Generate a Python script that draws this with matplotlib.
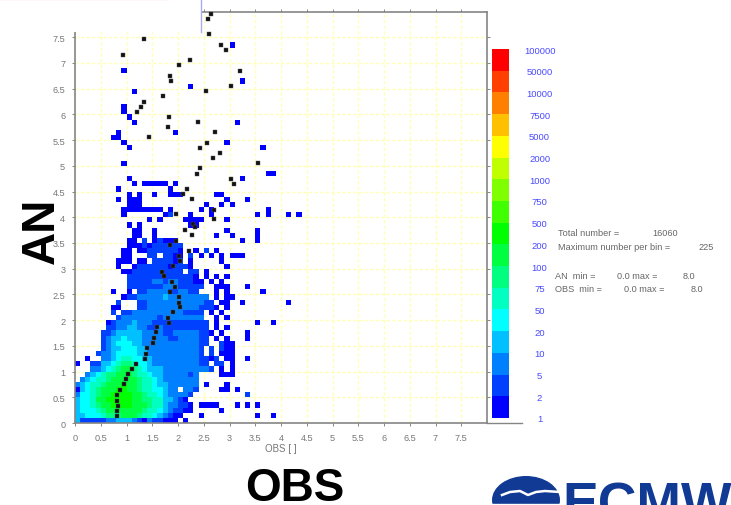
import numpy as np
import matplotlib
matplotlib.use("Agg")
import matplotlib.pyplot as plt
from matplotlib.colors import BoundaryNorm, ListedColormap
from matplotlib.lines import Line2D
from matplotlib.patches import Rectangle, Ellipse

plt.rcParams['font.family'] = ['Liberation Sans', 'DejaVu Sans']

W, H = 731, 506
BIN = 0.1

# colour classes
class_bounds = [1, 2, 5, 10, 20, 50, 75, 100, 200, 500, 750, 1000, 2000, 5000,
                7500, 10000, 50000, 100000]
class_colors = ['#0000ff', '#0040ff', '#0080ff', '#00c0ff', '#00ffff', '#00ffc0',
                '#00ff80', '#00ff40', '#00ff00', '#40ff00', '#80ff00', '#c0ff00',
                '#ffff00', '#ffc000', '#ff8000', '#ff4000', '#ff0000']

# class per OBS bin, one string per AN bin from AN = 0 upward ('.' = empty bin)
an_rows = [
    "4222223344 4321322111 .1",
    "4455567778 8876654321 1...1..... .....1..1.",
    "4555678888 8887665432 211.....1. ",
    "4556788999 9888766433 221.1111.. .1.1.1....",
    "4556889999 9887766443 21........",
    "3556788999 9887665433 332....... ...2......",
    "1456788899 8876655433 .332....11 .1",
    "3456678889 8876654433 3333.1...1",
    ".345667888 8876654333 3333......",
    "..34567788 8766544333 3323....11 1",
    "...3345678 8765444333 3333332.1. 1",
    "1..2244567 7655433333 333322.22. 1",
    "..1..33456 6554433333 33332212.1 1..1......",
    "....233455 5544333333 33332.2.11 1",
    ".....23445 5544333333 33332.2.21 1",
    ".....23455 5443333333 333322..21 1",
    ".....23445 4443333322 333322.1.1 ...1",
    ".....22344 4443333223 3333221.1. ...1",
    "......2233 4433223222 222222.1.1",
    "......1233 3433322222 222222.1.. .....1..1.",
    "........23 3333332333 33333..1.1",
    ".......2.2 2333333333 32222.1.1.",
    ".......11. ..22333333 33332221.1",
    "........2. ..22333333 3333322.11 ..1....... .1",
    ".........1 2233333433 333333.1.1 1",
    ".......1.. 1.22333322 3322...1.1 ......1",
    ".......... 2222222333 22222..111 ...1......",
    ".......... 2222233233 22211.1.1.",
    ".......... 2222222222 2221.1.1.1",
    ".........1 1222222222 2.22.1....",
    "........1. .122222212 221......1",
    "........11 1.11.22221 2.1.....1.",
    ".........1 1...22.221 1.2.1.1.1. 111",
    ".........1 1.11222222 1..1.2.1..",
    ".......... 1112122222 2",
    ".......... 11.2.12111 .......... ..1..1",
    ".......... .11..1.... .......1.. 1....1",
    ".......... .11..1.... .........1 .....1",
    ".......... 1.1....... ..11",
    ".......... ....1.1... .1111.... 1",
    ".........1 .......12. ..1...1... .....1.1.. .1.1",
    ".........1 1111111.1. ....1.1... .......1",
    ".......... 111....... .....1..1. 1",
    "........1. 111....... .........1 ...1",
    ".......... 1.1..1..11 1......11",
    "........1. ........1",
    ".......... .1.11111.1",
    ".......... 1......... .......... ..1",
    ".......... .......... .......... .......11",
]

# isolated bins above the dense part: OBS bin index, AN bin index
lone_obs = [9, 10, 9, 7, 8, 8, 11, 10, 9, 9, 11, 9, 19, 22, 30, 32, 31, 29, 36]
lone_an = [50, 53, 54, 55, 55, 56, 58, 59, 60, 61, 64, 68, 56, 65, 73, 66, 58, 54, 53]

# scatter of black points
dots_obs = [2.64, 2.58, 2.61, 2.84, 2.94, 3.21, 3.02, 2.54, 2.24, 2.01, 1.84, 1.86,
            1.34, 0.94, 1.34, 1.28, 1.21, 1.70, 1.83, 1.81, 2.38, 1.44, 2.72, 2.56,
            2.42, 2.82, 2.68, 3.56, 2.43, 2.36, 3.02, 3.09, 2.17, 2.10, 2.28, 2.69,
            2.69, 1.97, 2.30, 2.33, 2.28, 2.14, 1.97, 1.84, 2.22, 2.02, 2.04, 1.91,
            1.68, 1.72, 1.88, 1.95, 1.84, 2.02, 2.02, 2.04, 1.90, 1.81, 1.83, 1.59,
            1.57, 1.54, 1.52, 1.39, 1.37, 1.36, 1.18, 1.10, 1.02, 0.99, 0.95, 0.87,
            0.81, 0.81, 0.84, 0.82, 0.82]
dots_an = [7.96, 7.85, 7.56, 7.35, 7.25, 6.85, 6.55, 6.45, 7.05, 6.96, 6.75, 6.65,
           7.46, 7.15, 6.25, 6.15, 6.05, 6.35, 5.95, 5.75, 5.85, 5.56, 5.65, 5.45,
           5.35, 5.25, 5.15, 5.05, 4.95, 4.85, 4.75, 4.65, 4.55, 4.45, 4.35, 4.15,
           3.96, 4.06, 3.87, 3.82, 3.66, 3.75, 3.54, 3.46, 3.35, 3.25, 3.15, 3.06,
           2.93, 2.85, 2.75, 2.65, 2.55, 2.44, 2.34, 2.25, 2.15, 2.04, 1.94, 1.86,
           1.76, 1.65, 1.55, 1.45, 1.34, 1.24, 1.15, 1.05, 0.95, 0.85, 0.76, 0.65,
           0.54, 0.43, 0.34, 0.24, 0.14]

tick_vals = np.arange(0, 8, 0.5)
tick_labels = ['0', '0.5', '1', '1.5', '2', '2.5', '3', '3.5', '4', '4.5', '5',
               '5.5', '6', '6.5', '7', '7.5']

GREY = '#858585'


def px_axes(x0, y0, x1, y1, **kw):
    return fig.add_axes([x0 / W, 1 - y1 / H, (x1 - x0) / W, (y1 - y0) / H], **kw)


def ftext(x, y, s, **kw):
    fig.text(x / W, 1 - y / H, s, **kw)


def fline(x0, y0, x1, y1, **kw):
    fig.add_artist(Line2D([x0 / W, x1 / W], [1 - y0 / H, 1 - y1 / H], **kw))


fig = plt.figure(figsize=(W / 100, H / 100), dpi=100, facecolor='white')
ax = px_axes(75, 12.5, 487, 424)

# bin grid
grid = np.zeros((80, 80))
for j, row in enumerate(an_rows):
    for i, ch in enumerate(row.replace(' ', '')):
        if ch != '.':
            grid[j, i] = class_bounds[int(ch) - 1]
for i, j in zip(lone_obs, lone_an):
    grid[j, i] = class_bounds[0]

cmap = ListedColormap(class_colors)
norm = BoundaryNorm(class_bounds, cmap.N)
edges = np.arange(81) * BIN
mesh = ax.pcolormesh(edges, edges, np.ma.masked_equal(grid, 0), cmap=cmap, norm=norm,
                     zorder=1, linewidth=0, rasterized=True)
ax.plot(dots_obs, dots_an, ls='none', marker='s', ms=2.3, color='#111111', mec='#555555',
        mew=0.3, zorder=4, clip_on=False)

ax.set_xlim(0, 8)
ax.set_ylim(0, 8)
ax.set_xticks(tick_vals, tick_labels)
ax.set_yticks(tick_vals, tick_labels)
ax.set_axisbelow(True)
ax.grid(True, color='#ffffb8', lw=1.0, ls=(0, (2.5, 1.5)))
ax.tick_params(axis='both', length=2.5, width=0.7, color=GREY, labelcolor='#777777',
               labelsize=6.6, top=True, right=True, pad=4.5)
for side in ax.spines.values():
    side.set_color(GREY)
    side.set_linewidth(1.2)
ftext(281, 449.5, 'OBS [ ]', color='#777777', fontsize=7, ha='center', va='center')

# colour scale
cax = px_axes(492, 50, 509, 419)
cb = fig.colorbar(mesh, cax=cax, ticks=class_bounds, spacing='uniform', drawedges=False)
cb.ax.set_yticklabels([str(v) for v in class_bounds])
cb.outline.set_visible(False)
cb.ax.tick_params(length=0, labelsize=6.8, labelcolor='#4a4aff', pad=22)
for lab in cb.ax.get_yticklabels():
    lab.set_ha('center')

# page-level items
fig.add_artist(Rectangle((0, 1 - 33 / H), 200.5 / W, 33 / H, transform=fig.transFigure,
                         facecolor='white', edgecolor='none', zorder=5))
fline(0, 0.4, 168, 0.4, color='#ffd9d9', lw=1, zorder=6)
fline(201, 0, 201, 33, color='#a9a9f5', lw=1, zorder=6)
fline(487, 424, 522, 424, color=GREY, lw=1.0, zorder=6)

stat = dict(color='#666666', fontsize=6.6, va='center', ha='left')
ftext(558, 234, 'Total number =', **stat)
ftext(652, 234, '16060', **stat)
ftext(558, 247, 'Maximum number per bin =', **stat)
ftext(698, 247, '225', **stat)
ftext(555, 277, 'AN  min =', **stat)
ftext(617, 277, '0.0 max =', **stat)
ftext(683, 277, '8.0', **stat)
ftext(555, 290, 'OBS  min =', **stat)
ftext(624, 290, '0.0 max =', **stat)
ftext(691, 290, '8.0', **stat)

ftext(295, 501.5, 'OBS', color='black', fontsize=33, fontweight='bold', ha='center',
      va='baseline')
ftext(42, 231, 'AN', color='black', fontsize=33, fontweight='bold', ha='center',
      va='center', rotation=90, zorder=7)

# logo, cut by the lower page edge
LOGO = '#103a94'
ftext(562, 520.5, 'ECMWF', color=LOGO, fontsize=38.5, fontweight='bold', ha='left',
      va='baseline', clip_on=False)
fig.add_artist(Ellipse((526 / W, 1 - 501 / H), 68 / W, 48 / H, transform=fig.transFigure,
                       facecolor=LOGO, edgecolor='none', zorder=3))
fig.add_artist(Line2D(np.array([502, 510, 520, 528, 536, 545, 560]) / W,
                      1 - np.array([496, 493, 492, 496, 493, 492, 493]) / H,
                      color='white', lw=1.8, zorder=4))
fline(490, 505, 562, 505, color='white', lw=1, zorder=4)

fig.savefig('out.png', dpi=100)
